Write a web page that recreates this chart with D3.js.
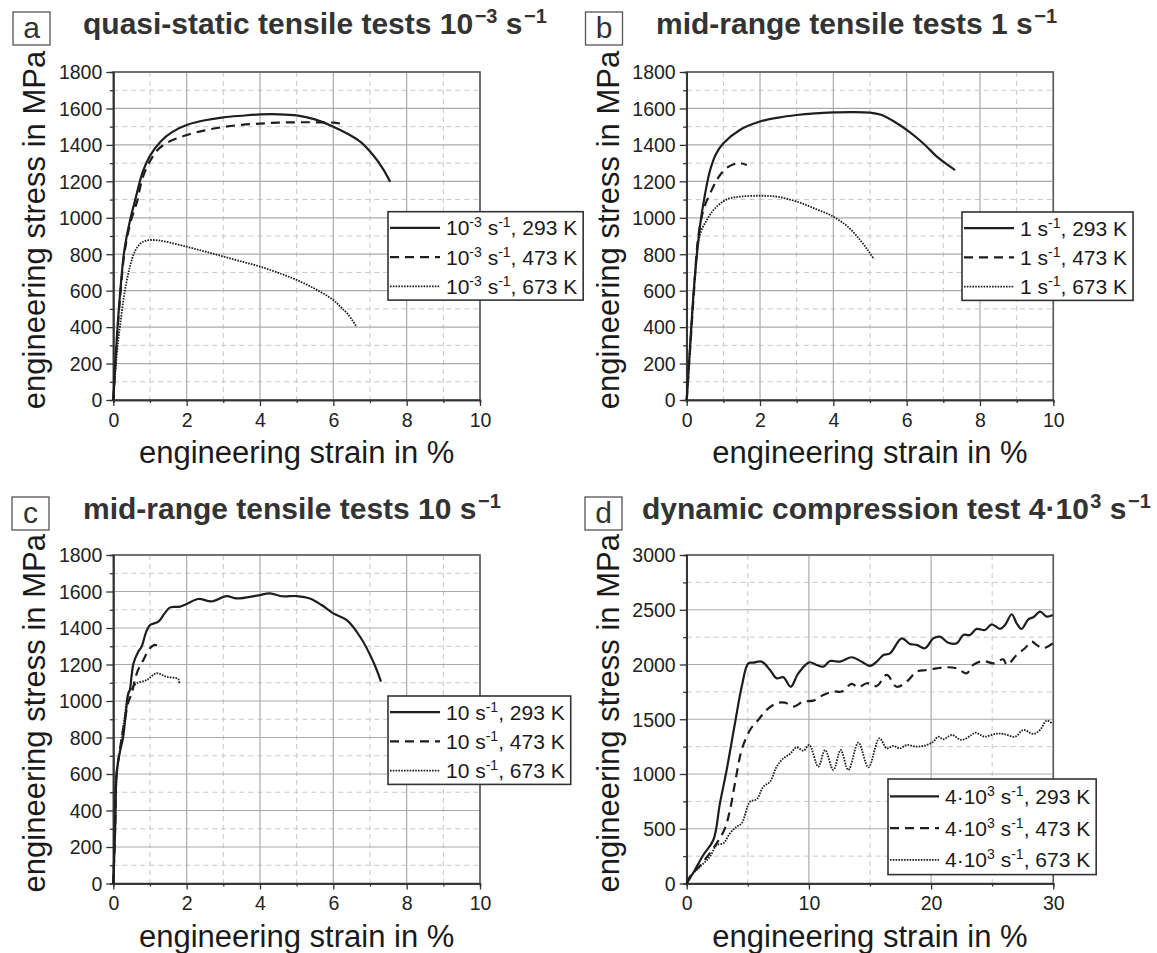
<!DOCTYPE html>
<html><head><meta charset="utf-8">
<script src="https://cdn.jsdelivr.net/npm/d3@7"></script>
<style>
html,body{margin:0;padding:0;background:#fff;}
svg{display:block;font-family:"Liberation Sans",Arial,sans-serif;}
</style></head>
<body><svg id="chart" width="1157" height="953"></svg>
<script>
// ---------------- data ----------------
const tensileXTicks = [0, 2, 4, 6, 8, 10];
const tensileYTicks = [0, 200, 400, 600, 800, 1000, 1200, 1400, 1600, 1800];
const dynXTicks = [0, 10, 20, 30];
const dynYTicks = [0, 500, 1000, 1500, 2000, 2500, 3000];

const panelLetters = ["a", "b", "c", "d"];
const panelTitles = [
  ["quasi-static tensile tests 10", "\u22123", " s", "\u22121"],
  ["mid-range tensile tests 1 s", "\u22121"],
  ["mid-range tensile tests 10 s", "\u22121"],
  ["dynamic compression test 4\u00b710", "3", " s", "\u22121"]
];
const temperatures = ["293 K", "473 K", "673 K"];
const ratePrefix = [["10", "-3"], ["1", null], ["10", null], ["4\u00b710", "3"]];

// panel a: 10^-3 1/s  [strain %, stress MPa]
const a293 = [[0,0],[0.1,350],[0.2,620],[0.3,820],[0.45,980],[0.6,1100],[0.8,1250],[1.0,1340],[1.3,1420],[1.6,1470],[2.0,1509],[2.5,1535],[3.0,1551],[3.5,1560],[4.0,1567],[4.5,1568],[5.0,1562],[5.5,1540],[6.0,1500],[6.4,1460],[6.75,1415],[7.1,1340],[7.35,1270],[7.55,1198]];
const a473 = [[0,0],[0.1,340],[0.2,600],[0.3,800],[0.45,960],[0.6,1060],[0.65,1090],[0.8,1220],[1.0,1310],[1.2,1370],[1.45,1410],[2.0,1454],[2.5,1480],[3.0,1498],[3.5,1510],[4.0,1517],[4.5,1522],[5.0,1524],[5.5,1524],[6.0,1522],[6.25,1515]];
const a673 = [[0,0],[0.1,260],[0.18,400],[0.3,580],[0.45,730],[0.6,820],[0.75,860],[0.9,875],[1.1,878],[1.4,870],[2.0,841],[2.5,815],[3.0,787],[3.5,760],[4.0,732],[4.5,698],[5.0,659],[5.5,610],[6.0,549],[6.2,510],[6.4,470],[6.64,400]];
// panel b: 1 1/s
const b293 = [[0,0],[0.1,320],[0.2,620],[0.36,951],[0.5,1130],[0.64,1262],[0.8,1350],[1.0,1409],[1.45,1482],[2.0,1528],[2.5,1550],[3.0,1564],[3.5,1573],[4.0,1578],[4.5,1580],[5.0,1577],[5.3,1565],[5.6,1535],[6.0,1482],[6.3,1435],[6.55,1390],[6.8,1340],[7.0,1308],[7.32,1262]];
const b473 = [[0,0],[0.1,300],[0.2,600],[0.3,870],[0.41,1006],[0.5,1070],[0.64,1134],[0.8,1200],[0.91,1235],[1.1,1275],[1.3,1295],[1.45,1300],[1.64,1290]];
const b673 = [[0,0],[0.1,300],[0.2,620],[0.3,840],[0.4,930],[0.55,988],[0.7,1035],[0.82,1061],[1.0,1090],[1.18,1107],[1.5,1117],[2.0,1121],[2.45,1116],[3.0,1089],[3.5,1050],[4.0,1006],[4.4,950],[4.73,878],[4.95,820],[5.11,772]];
// panel c: 10 1/s
const c293 = [[0,0],[0.05,300],[0.09,604],[0.18,720],[0.27,804],[0.35,950],[0.41,1042],[0.45,1060],[0.5,1140],[0.55,1206],[0.68,1270],[0.77,1297],[0.9,1380],[1.0,1416],[1.23,1435],[1.4,1480],[1.55,1513],[1.82,1517],[2.0,1532],[2.32,1559],[2.68,1546],[3.09,1575],[3.36,1562],[3.91,1577],[4.27,1590],[4.59,1574],[5.0,1575],[5.36,1562],[5.68,1526],[6.0,1480],[6.36,1444],[6.73,1352],[7.09,1215],[7.3,1106]];
const c473 = [[0,0],[0.05,300],[0.09,600],[0.2,760],[0.3,880],[0.42,1000],[0.5,1040],[0.64,1152],[0.82,1225],[1.0,1289],[1.14,1307],[1.22,1298]];
const c673 = [[0,0],[0.05,300],[0.1,600],[0.2,760],[0.3,900],[0.41,1042],[0.5,1070],[0.64,1097],[0.91,1115],[1.18,1152],[1.45,1133],[1.77,1120],[1.8,1093]];
// panel d: 4*10^3 1/s (compression)
const d293 = [[0,0],[0.6,110],[1.36,260],[2.18,397],[2.72,732],[3.27,1037],[3.95,1463],[4.5,1797],[5.04,2011],[5.45,2017],[6.13,2026],[6.82,1950],[7.36,1874],[7.91,1883],[8.51,1797],[9.13,1919],[10.03,2020],[10.63,1996],[11.18,1980],[11.73,2032],[12.55,2026],[13.5,2066],[14.32,2026],[15.0,1987],[15.55,2026],[16.1,2087],[16.64,2102],[17.59,2239],[18.27,2188],[18.82,2179],[19.5,2148],[20.18,2239],[20.73,2254],[21.41,2199],[22.1,2193],[22.64,2270],[23.18,2270],[23.73,2325],[24.41,2315],[24.96,2367],[25.64,2325],[26.05,2361],[26.6,2459],[27.0,2376],[27.41,2325],[27.96,2413],[28.37,2431],[28.92,2483],[29.46,2437],[29.95,2452]];
const d473 = [[0,0],[0.27,62],[1.36,199],[2.45,367],[3.13,504],[3.54,671],[3.95,915],[4.5,1220],[5.18,1402],[5.86,1494],[6.54,1585],[7.36,1646],[8.04,1652],[8.73,1616],[9.54,1661],[10.36,1670],[11.18,1722],[12.0,1753],[12.68,1753],[13.5,1823],[14.05,1792],[14.73,1829],[15.55,1804],[16.37,1905],[17.18,1797],[18.0,1843],[18.82,1935],[19.64,1950],[20.46,1965],[21.28,1975],[22.1,1965],[22.9,1919],[23.45,1996],[24.27,2032],[25.1,2011],[25.91,2047],[26.2,1996],[27.0,2087],[27.68,2148],[28.23,2209],[28.64,2179],[29.19,2148],[29.95,2193]];
const d673 = [[0,0],[0.27,62],[1.09,153],[1.9,245],[2.45,351],[3.0,367],[3.54,458],[4.09,519],[4.5,549],[5.18,747],[5.73,769],[6.27,884],[6.82,930],[7.36,1067],[7.91,1143],[8.45,1183],[9.0,1244],[9.54,1213],[10.03,1265],[10.77,1067],[11.32,1219],[12.0,1037],[12.6,1219],[13.23,1037],[14.05,1286],[14.87,1061],[15.77,1326],[16.37,1234],[16.91,1256],[17.46,1234],[18.0,1265],[18.82,1250],[19.64,1265],[20.18,1295],[20.6,1341],[21.0,1317],[21.69,1356],[22.5,1311],[23.3,1356],[23.6,1377],[24.4,1341],[25.23,1366],[25.9,1366],[26.87,1341],[27.55,1402],[28.37,1366],[28.91,1402],[29.46,1488],[29.95,1457]];

// ---------------- layout ----------------
const svg = d3.select("#chart");
const FONT = '"Liberation Sans",Arial,sans-serif';
const styles = [
  {dash: null, width: 2.2},
  {dash: "9,6", width: 2.2},
  {dash: "1.6,1.2", width: 1.8}
];

const panels = [
  {L: 113.3, R: 480, T: 72, B: 400, xDom: [0,10], yDom: [0,1800], xT: tensileXTicks, yT: tensileYTicks, xMinor: 1, yMinor: 100, series: [a293,a473,a673], leg: {x: 388, y: 211.7, line: 50}, box: [13, 12], tx: 83},
  {L: 686.7, R: 1053.3, T: 72, B: 400, xDom: [0,10], yDom: [0,1800], xT: tensileXTicks, yT: tensileYTicks, xMinor: 1, yMinor: 100, series: [b293,b473,b673], leg: {x: 962, y: 212, line: 50}, box: [585.5, 12], tx: 656},
  {L: 113.3, R: 480, T: 555, B: 883.5, xDom: [0,10], yDom: [0,1800], xT: tensileXTicks, yT: tensileYTicks, xMinor: 1, yMinor: 100, series: [c293,c473,c673], leg: {x: 388, y: 696, line: 50}, box: [12, 497], tx: 83},
  {L: 686.7, R: 1053.3, T: 555, B: 883.5, xDom: [0,30], yDom: [0,3000], xT: dynXTicks, yT: dynYTicks, xMinor: 5, yMinor: 250, series: [d293,d473,d673], leg: {x: 888, y: 779, line: 49}, box: [585, 497], tx: 642}
];

panels.forEach((p, i) => {
  const g = svg.append("g");
  const x = d3.scaleLinear().domain(p.xDom).range([p.L, p.R]);
  const y = d3.scaleLinear().domain(p.yDom).range([p.B, p.T]);
  const xMinorT = d3.range(p.xDom[0], p.xDom[1] + 1e-9, p.xMinor);
  const yMinorT = d3.range(p.yDom[0], p.yDom[1] + 1e-9, p.yMinor);
  const xMajorSet = new Set(p.xT), yMajorSet = new Set(p.yT);

  // minor grid (dashed)
  g.append("g").selectAll("line").data(xMinorT.filter(v => !xMajorSet.has(v)))
    .join("line").attr("x1", d => x(d)).attr("x2", d => x(d)).attr("y1", p.T).attr("y2", p.B)
    .attr("stroke", "#c8c8c8").attr("stroke-width", 1).attr("stroke-dasharray", "5,4");
  g.append("g").selectAll("line").data(yMinorT.filter(v => !yMajorSet.has(v)))
    .join("line").attr("y1", d => y(d)).attr("y2", d => y(d)).attr("x1", p.L).attr("x2", p.R)
    .attr("stroke", "#c8c8c8").attr("stroke-width", 1).attr("stroke-dasharray", "5,4");
  // major grid
  g.append("g").selectAll("line").data(p.xT)
    .join("line").attr("x1", d => x(d)).attr("x2", d => x(d)).attr("y1", p.T).attr("y2", p.B)
    .attr("stroke", "#ababab").attr("stroke-width", 1.2);
  g.append("g").selectAll("line").data(p.yT)
    .join("line").attr("y1", d => y(d)).attr("y2", d => y(d)).attr("x1", p.L).attr("x2", p.R)
    .attr("stroke", "#ababab").attr("stroke-width", 1.2);

  // frame
  g.append("rect").attr("x", p.L).attr("y", p.T).attr("width", p.R - p.L).attr("height", p.B - p.T)
    .attr("fill", "none").attr("stroke", "#5a5a5a").attr("stroke-width", 1.6);

  // axes
  const fmt = d3.format("d");
  const xAxis = d3.axisBottom(x).tickValues(p.xT).tickSize(6).tickSizeOuter(0).tickFormat(fmt);
  const xAxisMinor = d3.axisBottom(x).tickValues(xMinorT.filter(v => !xMajorSet.has(v))).tickSize(3).tickFormat("");
  const yAxis = d3.axisLeft(y).tickValues(p.yT).tickSize(7).tickSizeOuter(0).tickFormat(fmt);
  const yAxisMinor = d3.axisLeft(y).tickValues(yMinorT.filter(v => !yMajorSet.has(v))).tickSize(3.5).tickFormat("");
  [[xAxis, "x"], [xAxisMinor, "x"], [yAxis, "y"], [yAxisMinor, "y"]].forEach(([ax, t]) => {
    const ag = g.append("g").attr("transform", t === "x" ? `translate(0,${p.B})` : `translate(${p.L},0)`).call(ax);
    ag.select(".domain").attr("stroke", "#333").attr("stroke-width", 1.6);
    ag.selectAll(".tick line").attr("stroke", "#333").attr("stroke-width", 1.3);
    ag.selectAll(".tick text").attr("font-family", FONT).attr("font-size", 19.5).attr("fill", "#222");
    if (t === "x") ag.selectAll(".tick text").attr("dy", "0.85em").attr("y", 10);
    else ag.selectAll(".tick text").attr("x", -11).attr("dy", "0.35em");
  });

  // series
  const line = d3.line().x(d => x(d[0])).y(d => y(d[1])).curve(d3.curveCatmullRom.alpha(0.5));
  p.series.forEach((s, k) => {
    g.append("path").datum(s).attr("d", line).attr("fill", "none").attr("stroke", "#1e1e1e")
      .attr("stroke-width", styles[k].width).attr("stroke-dasharray", styles[k].dash)
      .attr("stroke-linejoin", "round");
  });

  // axis labels
  g.append("text").attr("x", (p.L + p.R) / 2).attr("y", p.B + 63).attr("text-anchor", "middle")
    .attr("font-family", FONT).attr("font-size", 31).attr("fill", "#1a1a1a").text("engineering strain in %");
  g.append("text").attr("transform", `translate(${p.L - 68},${(p.T + p.B) / 2 - 6}) rotate(-90)`)
    .attr("text-anchor", "middle").attr("font-family", FONT).attr("font-size", 31).attr("fill", "#1a1a1a")
    .text("engineering stress in MPa");

  // panel letter + title
  const [bx, by] = p.box;
  g.append("rect").attr("x", bx).attr("y", by).attr("width", 37).attr("height", 33)
    .attr("fill", "#fff").attr("stroke", "#555").attr("stroke-width", 1.3);
  g.append("text").attr("x", bx + 18.5).attr("y", by + 26).attr("text-anchor", "middle")
    .attr("font-family", FONT).attr("font-size", 30).attr("fill", "#333").text(panelLetters[i]);
  const tt = g.append("text").attr("x", p.tx).attr("y", by + 22)
    .attr("font-family", FONT).attr("font-size", 30).attr("font-weight", "bold").attr("fill", "#333");
  panelTitles[i].forEach((part, j) => {
    if (j === 0) { tt.append("tspan").text(part); return; }
    const isSup = (j % 2 === 1);
    tt.append("tspan").attr("font-size", isSup ? 20 : 30).attr("dy", isSup ? -11 : 11)
      .attr("dx", isSup ? 1.5 : 0).text(part);
  });

  // legend
  const lg = g.append("g");
  const rowH = i === 3 ? 31.7 : 29.3;
  const box = lg.append("rect").attr("x", p.leg.x).attr("y", p.leg.y).attr("height", rowH * 3 + 0.5)
    .attr("fill", "#fff").attr("stroke", "#333").attr("stroke-width", 1.6);
  let maxEnd = 0;
  temperatures.forEach((tLab, k) => {
    const cy = p.leg.y + rowH * (k + 0.55);
    lg.append("line").attr("x1", p.leg.x + 2).attr("x2", p.leg.x + 2 + p.leg.line).attr("y1", cy).attr("y2", cy)
      .attr("stroke", "#1e1e1e").attr("stroke-width", styles[k].width).attr("stroke-dasharray", styles[k].dash);
    const tx = lg.append("text").attr("x", p.leg.x + p.leg.line + 8).attr("y", cy + 7.5)
      .attr("font-family", FONT).attr("font-size", 21).attr("fill", "#1a1a1a");
    const rp = ratePrefix[i];
    tx.append("tspan").text(rp[0]);
    if (rp[1]) tx.append("tspan").attr("font-size", 14).attr("dy", -8).text(rp[1]);
    tx.append("tspan").attr("dy", rp[1] ? 8 : 0).text(" s");
    tx.append("tspan").attr("font-size", 14).attr("dy", -8).text("-1");
    tx.append("tspan").attr("dy", 8).text(", " + tLab);
    const bb = tx.node().getBBox();
    maxEnd = Math.max(maxEnd, bb.x + bb.width);
  });
  box.attr("width", maxEnd + 6 - p.leg.x);
});
</script></body></html>
